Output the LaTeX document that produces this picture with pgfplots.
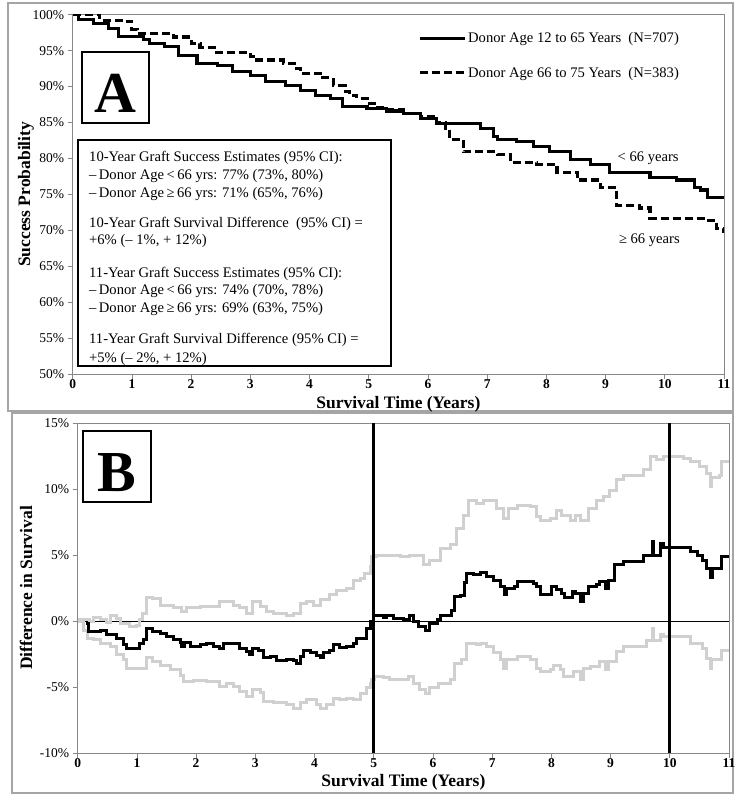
\documentclass[border=0pt]{standalone}
\usepackage{fontspec}
\setmainfont{Liberation Serif}
\usepackage{pgfplots}
\pgfplotsset{compat=1.18}
\definecolor{cigray}{RGB}{208,208,208}
\definecolor{framegray}{RGB}{165,165,165}
\definecolor{axgray}{RGB}{135,135,135}
\newcommand\tickfont{\fontsize{13.5}{13.5}\selectfont}
\newcommand\labfont{\fontsize{17.5}{17.5}\selectfont\bfseries}
\newcommand\txtfont{\fontsize{14.6}{14.6}\selectfont}
\pgfplotsset{
  basestyle/.style={
    scale only axis, anchor=south west, width=651.3pt,
    axis line style={axgray, line width=0.8pt},
    tick style={axgray, line width=0.8pt},
    tick align=outside, major tick length=5pt, tick pos=left,
    xmin=0, xmax=11,
    xtick={0,1,2,3,4,5,6,7,8,9,10,11},
    xticklabels={0,1,2,3,4,5,6,7,8,9,10,11},
    xticklabel style={font=\tickfont\bfseries, yshift=2pt, inner sep=2pt},
    yticklabel style={font=\tickfont},
    clip=true,
  }
}
\begin{document}
\begin{tikzpicture}[x=1pt,y=1pt]
\useasboundingbox (0,0) rectangle (735,796);
\fill[white] (0,0) rectangle (735,796);
\draw[framegray, line width=1.5pt] (8,793) rectangle (733,385);
\draw[framegray, line width=1.5pt] (12,383) rectangle (733,3);

% ---------------- Panel A ----------------
\begin{axis}[basestyle, at={(72.7pt,422pt)}, height=359.3pt,
  ymin=50, ymax=100,
  ytick={50,55,60,65,70,75,80,85,90,95,100},
  yticklabels={50\%,55\%,60\%,65\%,70\%,75\%,80\%,85\%,90\%,95\%,100\%},
  xlabel={Survival Time (Years)},
  ylabel={Success Probability},
  xlabel style={font=\labfont, at={(axis description cs:0.5,-0.0835)}, anchor=center, inner sep=1pt},
  ylabel style={font=\labfont, at={(axis description cs:-0.0717,0.5)}, anchor=center},
  legend style={draw=none, fill=none, at={(0.53,0.957)}, anchor=north west,
    font=\txtfont, row sep=19pt, inner sep=0pt},
  legend cell align=left,
  legend image code/.code={\draw[#1] (0pt,0pt) -- (45pt,0pt);},
]
\addplot[black, line width=3.1pt, const plot] coordinates {
(0,100)(0.1,99.3)(0.35,98.8)(0.6,98.1)(0.78,97.0)(1.2,96.5)(1.3,96.0)(1.55,95.6)
(1.78,94.3)(2.1,93.2)(2.45,92.9)(2.7,92.1)(3.0,91.6)(3.25,90.7)(3.6,90.2)(3.84,89.5)
(4.1,88.8)(4.35,88.4)(4.55,87.2)(4.97,87.0)(5.3,86.6)(5.58,86.3)(5.87,85.6)(6.15,84.9)
(6.6,84.8)(6.88,84.2)(7.1,83.0)(7.17,82.6)(7.5,82.3)(7.78,81.6)(8.06,80.9)(8.4,79.8)
(8.74,79.1)(9.07,78.1)(9.75,77.3)(10.2,77.0)(10.5,76.0)(10.6,75.6)(10.72,74.6)(11,74.6)};
\addlegendentry{Donor Age 12 to 65 Years\ \ (N=707)}
\addplot[black, line width=3.1pt, const plot, dash pattern=on 8pt off 4pt] coordinates {
(0,100)(0.46,99.2)(0.85,99.0)(1.0,98.0)(1.1,97.4)(1.7,96.9)(2.0,96.0)(2.15,95.4)(2.43,94.7)
(3.0,94.2)(3.05,93.7)(3.56,93.2)(3.75,92.5)(3.84,91.8)(4.18,91.2)(4.4,90.1)(4.6,89.3)
(4.68,88.8)(4.8,88.3)(4.97,87.7)(5.1,87.1)(5.3,86.8)(5.58,86.3)(5.87,85.8)(6.15,85.0)
(6.3,84.2)(6.37,82.6)(6.6,80.9)(7.17,80.5)(7.39,79.4)(7.84,79.1)(8.18,78.1)(8.52,77.0)
(8.91,75.9)(9.19,73.5)(9.58,73.1)(9.75,71.6)(10.65,71.4)(10.88,70.3)(11,69.6)};
\addlegendentry{Donor Age 66 to 75 Years\ \ (N=383)}
\node[font=\txtfont] at (axis cs:9.72,80.07) {< 66 years};
\node[font=\txtfont] at (axis cs:9.74,68.6) {≥ 66 years};
\end{axis}

% ---------------- Panel B ----------------
\begin{axis}[basestyle, at={(77.7pt,43pt)}, height=330pt,
  ymin=-10, ymax=15,
  ytick={-10,-5,0,5,10,15},
  yticklabels={-10\%,-5\%,0\%,5\%,10\%,15\%},
  xlabel={Survival Time (Years)},
  ylabel={Difference in Survival},
  xlabel style={font=\labfont, at={(axis description cs:0.5,-0.09)}, anchor=center, inner sep=1pt},
  ylabel style={font=\labfont, at={(axis description cs:-0.0794,0.5)}, anchor=center},
]
\addplot[black, line width=0.9pt] coordinates {(0,0)(11,0)};
\addplot[cigray, line width=3pt, const plot] coordinates {
(0,0.08)(0.2,0.0)(0.26,0.3)(0.38,0.1)(0.49,-0.1)(0.55,0.45)(0.66,0.2)(0.72,-0.2)(0.88,-0.4)
(1.0,-0.35)(1.05,0.1)(1.1,0.6)(1.17,1.75)(1.27,1.7)(1.39,1.2)(1.62,1.0)(1.76,0.75)(1.84,1.0)
(2.07,1.1)(2.29,1.1)(2.4,1.45)(2.63,1.2)(2.74,1.0)(2.85,0.6)(2.96,1.45)(3.08,1.1)(3.19,0.7)
(3.3,0.6)(3.53,0.45)(3.64,0.6)(3.76,1.35)(3.87,1.45)(3.98,1.2)(4.1,1.6)(4.26,2.0)(4.37,2.3)
(4.54,2.5)(4.66,3.05)(4.77,3.2)(4.85,3.6)(4.94,4.1)(4.97,4.9)(5.05,5.0)(5.27,5.0)(5.45,4.9)
(5.61,5.0)(5.84,4.25)(5.95,4.6)(6.12,5.5)(6.29,5.8)(6.4,7.0)(6.51,8.0)(6.6,9.15)(6.74,8.9)
(6.85,9.15)(7.08,8.5)(7.19,7.8)(7.27,8.5)(7.42,8.75)(7.64,8.65)(7.75,7.9)(7.81,7.65)(7.98,7.8)
(8.09,8.4)(8.17,8.0)(8.32,7.65)(8.4,8.0)(8.49,7.65)(8.62,8.5)(8.77,9.15)(8.88,9.4)(8.99,9.9)
(9.1,10.7)(9.21,11.0)(9.55,11.45)(9.67,12.45)(9.78,12.2)(9.9,12.45)(10.23,12.3)(10.35,12.05)
(10.5,11.7)(10.62,11.2)(10.68,10.2)(10.7,10.9)(10.84,11.05)(10.88,12.05)(11.0,12.05)};
\addplot[cigray, line width=3pt, const plot] coordinates {
(0,0)(0.1,-0.7)(0.16,-1.3)(0.26,-1.4)(0.38,-1.7)(0.55,-1.95)(0.66,-2.55)(0.77,-2.95)(0.83,-3.6)
(1.05,-3.6)(1.17,-2.8)(1.27,-3.1)(1.39,-3.4)(1.56,-3.7)(1.73,-4.1)(1.79,-4.6)(1.95,-4.5)
(2.18,-4.6)(2.4,-4.95)(2.51,-4.7)(2.63,-4.95)(2.74,-5.35)(2.85,-5.75)(2.96,-5.2)(3.08,-5.45)
(3.14,-6.1)(3.3,-6.2)(3.53,-6.3)(3.64,-6.6)(3.76,-6.2)(3.87,-5.95)(4.04,-6.3)(4.1,-6.6)
(4.21,-6.3)(4.32,-5.85)(4.43,-5.95)(4.54,-5.85)(4.66,-5.95)(4.77,-5.5)(4.88,-5.0)(4.94,-4.7)
(4.97,-4.45)(5.02,-4.2)(5.16,-4.3)(5.27,-4.4)(5.39,-4.45)(5.58,-4.2)(5.67,-4.75)(5.78,-5.2)
(5.87,-5.5)(5.95,-5.05)(6.1,-4.7)(6.29,-4.4)(6.37,-3.2)(6.49,-2.95)(6.57,-1.7)(6.74,-1.8)
(6.8,-1.7)(6.91,-1.95)(7.02,-2.35)(7.14,-2.95)(7.19,-3.6)(7.25,-2.95)(7.42,-2.7)(7.64,-2.95)
(7.75,-3.6)(7.81,-3.85)(7.98,-3.7)(8.04,-3.35)(8.15,-3.7)(8.2,-4.2)(8.32,-4.2)(8.37,-3.85)
(8.49,-4.45)(8.54,-3.6)(8.66,-3.45)(8.82,-3.1)(8.91,-3.7)(8.97,-3.1)(9.1,-2.3)(9.21,-1.95)
(9.55,-1.95)(9.61,-1.45)(9.7,-0.55)(9.72,-1.45)(9.84,-1.0)(9.9,-1.15)(10.23,-1.2)(10.35,-1.7)
(10.56,-2.05)(10.62,-2.85)(10.68,-3.6)(10.7,-2.95)(10.84,-2.95)(10.88,-2.2)(11.0,-2.2)};
\addplot[black, line width=3pt, const plot] coordinates {
(0.14,-0.2)(0.18,-0.8)(0.38,-0.7)(0.49,-1.0)(0.66,-1.3)(0.77,-1.8)(0.83,-2.1)(1.0,-2.1)
(1.05,-1.7)(1.11,-1.4)(1.17,-0.55)(1.27,-0.8)(1.39,-0.94)(1.5,-1.2)(1.62,-1.4)(1.73,-1.6)
(1.76,-1.9)(1.81,-1.6)(1.9,-1.95)(2.07,-1.8)(2.18,-1.7)(2.29,-1.95)(2.4,-2.1)(2.46,-1.7)
(2.63,-1.7)(2.74,-2.1)(2.85,-2.3)(2.91,-2.5)(2.96,-2.1)(3.05,-2.2)(3.14,-2.8)(3.25,-2.7)
(3.36,-3.0)(3.53,-2.9)(3.64,-3.0)(3.7,-3.2)(3.76,-2.7)(3.81,-2.2)(3.93,-2.4)(4.04,-2.6)
(4.1,-2.8)(4.15,-2.4)(4.26,-2.25)(4.32,-1.75)(4.43,-2.0)(4.54,-1.9)(4.66,-1.7)(4.71,-1.3)
(4.83,-1.3)(4.88,-0.6)(4.94,0.0)(4.99,0.45)(5.16,0.3)(5.22,0.45)(5.33,0.2)(5.5,0.1)(5.61,0.45)
(5.67,-0.05)(5.75,-0.4)(5.87,-0.7)(5.95,-0.2)(6.07,0.1)(6.12,0.4)(6.26,0.45)(6.32,0.8)
(6.37,1.85)(6.46,1.95)(6.54,2.9)(6.57,3.6)(6.68,3.5)(6.8,3.65)(6.91,3.4)(7.02,3.1)(7.14,2.6)
(7.2,2.0)(7.25,2.5)(7.37,2.6)(7.42,3.0)(7.58,3.0)(7.7,2.85)(7.75,2.6)(7.81,2.0)(7.98,2.0)
(8.0,2.6)(8.09,2.35)(8.17,2.1)(8.23,1.75)(8.32,1.75)(8.35,2.2)(8.4,2.1)(8.49,1.45)(8.54,2.1)
(8.62,2.6)(8.77,2.75)(8.82,3.0)(8.91,2.5)(8.97,3.1)(9.07,4.25)(9.21,4.5)(9.5,4.5)(9.55,5.0)
(9.67,5.0)(9.7,6.0)(9.72,5.0)(9.84,5.9)(9.9,5.6)(10.24,5.6)(10.35,5.3)(10.46,5.0)(10.56,4.6)
(10.62,4.0)(10.67,4.0)(10.69,3.3)(10.72,4.0)(10.84,4.0)(10.88,4.9)(11.0,4.9)};
\addplot[black, line width=3pt] coordinates {(5,-10)(5,15)};
\addplot[black, line width=3pt] coordinates {(10,-10)(10,15)};
\end{axis}

% ---------------- Panel labels and text box ----------------
\draw[black, line width=1.1pt, fill=white] (82,744) rectangle (149,673);
\node[font=\fontsize{58}{58}\selectfont\bfseries, anchor=base, inner sep=0pt] at (115.5,683) {A};
\draw[black, line width=1.1pt, fill=white] (83,365) rectangle (151,294);
\node[font=\fontsize{58}{58}\selectfont\bfseries, anchor=base, inner sep=0pt] at (117,304.5) {B};

\draw[black, line width=1.1pt, fill=white] (78,656) rectangle (391,430);
\begin{scope}[every node/.style={font=\txtfont, anchor=base west, inner sep=0pt}]
\node at (89,796-161.2) {10-Year Graft Success Estimates (95\% CI):};
\node at (89,796-179.5) {\textendash\,Donor Age\,<\,66 yrs: 77\% (73\%, 80\%)};
\node at (89,796-197.2) {\textendash\,Donor Age\,≥\,66 yrs: 71\% (65\%, 76\%)};
\node at (89,796-227.5) {10-Year Graft Survival Difference\ \ (95\% CI) =};
\node at (89,796-244.5) {+6\% (\textendash\ 1\%, + 12\%)};
\node at (89,796-277.2) {11-Year Graft Success Estimates (95\% CI):};
\node at (89,796-294.5) {\textendash\,Donor Age\,<\,66 yrs: 74\% (70\%, 78\%)};
\node at (89,796-312.5) {\textendash\,Donor Age\,≥\,66 yrs: 69\% (63\%, 75\%)};
\node at (89,796-343.5) {11-Year Graft Survival Difference (95\% CI) =};
\node at (89,796-362.2) {+5\% (\textendash\ 2\%, + 12\%)};
\end{scope}
\end{tikzpicture}
\end{document}
